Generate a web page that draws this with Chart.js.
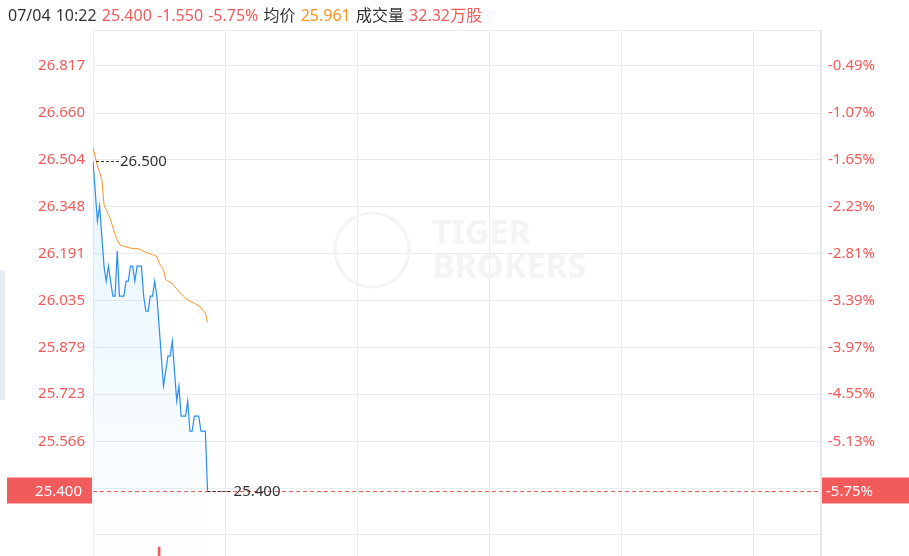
<!DOCTYPE html>
<html>
<head>
<meta charset="utf-8">
<script src="https://cdn.jsdelivr.net/npm/chart.js@4.4.1/dist/chart.umd.min.js"></script>
<style>
  body { margin: 0; background: #fff; font-family: "Noto Sans", "Noto Sans CJK SC", sans-serif; }
  #wrap { position: relative; width: 909px; height: 556px; }
  #head { position: absolute; left: 8px; top: 2px; font-size: 16px; color: #333; white-space: pre; word-spacing: 1px; }
  .red { color: #f25b5b; }
  .org { color: #f7931e; }
  #side { position: absolute; left: 0; top: 270px; width: 5px; height: 130px; background: #e6ecf2; }
</style>
</head>
<body>
<div id="wrap">
  <canvas id="myChart"></canvas>
  <div id="head">07/04 10:22 <span class="red">25.400 -1.550 -5.75%</span> 均价 <span class="org">25.961</span> 成交量 <span class="red">32.32万股</span></div>
  <div id="side"></div>
</div>
<script>
// minute prices from 09:30 (one per minute), HK session = 330 minutes
var prices = [26.50, 26.40, 26.30, 26.35, 26.25, 26.15, 26.10, 26.15, 26.10, 26.05,
	26.05, 26.20, 26.05, 26.05, 26.05, 26.10, 26.10, 26.15, 26.15, 26.10,
	26.15, 26.15, 26.15, 26.05, 26.00, 26.00, 26.05, 26.05, 26.10, 26.05,
	25.95, 25.85, 25.75, 25.80, 25.85, 25.85, 25.90, 25.80, 25.70, 25.75,
	25.65, 25.65, 25.65, 25.70, 25.60, 25.60, 25.65, 25.65, 25.65, 25.60,
	25.60, 25.60, 25.40];
var avgPrices = [26.545, 26.515, 26.484, 26.462, 26.440, 26.355, 26.338, 26.322, 26.305, 26.280,
	26.255, 26.238, 26.222, 26.219, 26.216, 26.214, 26.212, 26.210, 26.209, 26.208,
	26.208, 26.207, 26.203, 26.199, 26.196, 26.193, 26.191, 26.188, 26.185, 26.182,
	26.160, 26.149, 26.138, 26.105, 26.100, 26.096, 26.091, 26.082, 26.074, 26.065,
	26.058, 26.050, 26.043, 26.038, 26.034, 26.029, 26.026, 26.022, 26.019, 26.010,
	26.002, 25.993, 25.962];
var volMinutes = [30];
var volValues = [17000];
var priceTicks = [26.817, 26.660, 26.504, 26.348, 26.191, 26.035, 25.879, 25.723, 25.566, 25.410, 25.254];
var priceLabels = ['26.817', '26.660', '26.504', '26.348', '26.191', '26.035', '25.879', '25.723', '25.566', '', ''];
var pctLabels = ['-0.49%', '-1.07%', '-1.65%', '-2.23%', '-2.81%', '-3.39%', '-3.97%', '-4.55%', '-5.13%', '', ''];
var lastLabel = '25.400';
var lastPct = '-5.75%';
var openLabel = '26.500';

var RED = '#f25b5b';
var FONT = '"Noto Sans", "Noto Sans CJK SC", sans-serif';

var overlay = {
	id: 'overlay',
	beforeDatasetsDraw: function(chart) {
		var ctx = chart.ctx;
		ctx.save();
		// watermark
		ctx.strokeStyle = '#f4f4f4';
		ctx.lineWidth = 3;
		ctx.beginPath();
		ctx.arc(372, 250, 37, 0, Math.PI * 2);
		ctx.stroke();
		ctx.fillStyle = '#f4f4f4';
		ctx.font = 'bold 34px ' + FONT;
		ctx.textBaseline = 'middle';
		ctx.fillText('TIGER', 432, 234);
		ctx.fillText('BROKERS', 432, 268);
		ctx.restore();
	},
	afterDatasetsDraw: function(chart) {
		var ctx = chart.ctx;
		var a = chart.chartArea;
		var y = chart.scales.y;
		var x = chart.scales.x;
		ctx.save();
		// frame top and right
		ctx.strokeStyle = '#ececec';
		ctx.lineWidth = 1;
		ctx.beginPath();
		ctx.moveTo(a.left, a.top + 0.5);
		ctx.lineTo(a.right, a.top + 0.5);
		ctx.stroke();
		ctx.strokeStyle = '#e6e6e6';
		ctx.lineWidth = 2;
		ctx.beginPath();
		ctx.moveTo(a.right + 1, a.top);
		ctx.lineTo(a.right + 1, a.bottom);
		ctx.stroke();

		var last = prices[prices.length - 1];
		var ly = Math.round(y.getPixelForValue(last)) + 0.5;
		// red dashed last price line
		ctx.strokeStyle = RED;
		ctx.lineWidth = 1;
		ctx.setLineDash([4, 3]);
		ctx.beginPath();
		ctx.moveTo(a.left, ly);
		ctx.lineTo(a.right, ly);
		ctx.stroke();

		// open price marker
		var oy = Math.round(y.getPixelForValue(prices[0])) + 0.5;
		ctx.strokeStyle = '#333';
		ctx.setLineDash([3, 2]);
		ctx.beginPath();
		ctx.moveTo(a.left + 3, oy);
		ctx.lineTo(a.left + 26, oy);
		ctx.stroke();
		// last price marker
		var lx = x.getPixelForValue(prices.length - 1);
		ctx.beginPath();
		ctx.moveTo(lx, ly);
		ctx.lineTo(lx + 25, ly);
		ctx.stroke();
		ctx.setLineDash([]);

		ctx.font = '15px ' + FONT;
		ctx.textBaseline = 'middle';
		ctx.fillStyle = '#333';
		ctx.textAlign = 'left';
		ctx.fillText(openLabel, a.left + 27, oy);
		ctx.fillText(lastLabel, lx + 26, ly);

		// red boxes
		ctx.fillStyle = RED;
		ctx.fillRect(7, ly - 14, a.left - 8, 26);
		ctx.fillRect(a.right + 2, ly - 14, 909 - a.right, 26);
		ctx.fillStyle = '#fff';
		ctx.textAlign = 'right';
		ctx.fillText(lastLabel, a.left - 11, ly);
		ctx.textAlign = 'left';
		ctx.fillText(lastPct, a.right + 6, ly);
		ctx.restore();
	}
};

function setTicks(scale) {
	scale.ticks = priceTicks.map(function(v) { return { value: v }; });
}
function noPad(scale) {
	scale.paddingTop = 0;
	scale.paddingBottom = 0;
}

var ctx = document.getElementById('myChart').getContext('2d');
var myChart = new Chart(ctx, {
	data: {
		datasets: [{
			type: 'line',
			label: '价格',
			data: prices.map(function(p, i) { return { x: i, y: p }; }),
			borderColor: '#2b8ff0',
			borderWidth: 1.2,
			pointRadius: 0,
			tension: 0,
			fill: 'start',
			backgroundColor: function(c) {
				var a = c.chart.chartArea;
				if (!a) return 'rgba(43,143,240,0.1)';
				var g = c.chart.ctx.createLinearGradient(0, a.top + 100, 0, a.bottom - 30);
				g.addColorStop(0, 'rgba(43,165,240,0.13)');
				g.addColorStop(1, 'rgba(43,165,240,0.01)');
				return g;
			},
			yAxisID: 'y',
			order: 1
		}, {
			type: 'line',
			label: '均价',
			data: avgPrices.map(function(p, i) { return { x: i, y: p }; }),
			borderColor: '#f7931e',
			borderWidth: 1,
			pointRadius: 0,
			tension: 0,
			fill: false,
			yAxisID: 'y',
			order: 0
		}, {
			type: 'bar',
			label: '成交量',
			data: volMinutes.map(function(m, i) { return { x: m, y: volValues[i] }; }),
			backgroundColor: RED,
			barThickness: 2,
			yAxisID: 'yv',
			order: 2
		}]
	},
	options: {
		responsive: true,
		maintainAspectRatio: false,
		animation: false,
		layout: { padding: { top: 30, bottom: 0, left: 0, right: 0 } },
		plugins: { legend: { display: false }, tooltip: { enabled: false } },
		scales: {
			x: {
				type: 'linear',
				min: 0,
				max: 330,
				offset: false,
				afterBuildTicks: function(s) {
					s.ticks = [0, 60, 120, 180, 240, 300, 330].map(function(v) { return { value: v }; });
				},
				ticks: { display: false },
				grid: { color: '#ececec', drawTicks: false, offset: false },
				border: { display: false }
			},
			y: {
				position: 'left',
				min: 25.1836,
				max: 26.937,
				afterBuildTicks: setTicks,
				afterFit: function(s) { s.width = 93; noPad(s); },
				ticks: {
					color: RED,
					font: { size: 15, family: FONT },
					padding: 8,
					callback: function(v, i) { return priceLabels[i]; }
				},
				grid: { color: '#ececec', drawTicks: false },
				border: { color: '#ececec' }
			},
			y2: {
				position: 'right',
				min: 25.1836,
				max: 26.937,
				afterBuildTicks: setTicks,
				afterFit: function(s) { s.width = 89; noPad(s); },
				ticks: {
					color: RED,
					font: { size: 15, family: FONT },
					padding: 8,
					callback: function(v, i) { return pctLabels[i]; }
				},
				grid: { display: false, drawTicks: false },
				border: { display: false }
			},
			yv: {
				display: false,
				min: 0,
				max: 1000000
			}
		}
	},
	plugins: [overlay]
});
</script>
</body>
</html>
